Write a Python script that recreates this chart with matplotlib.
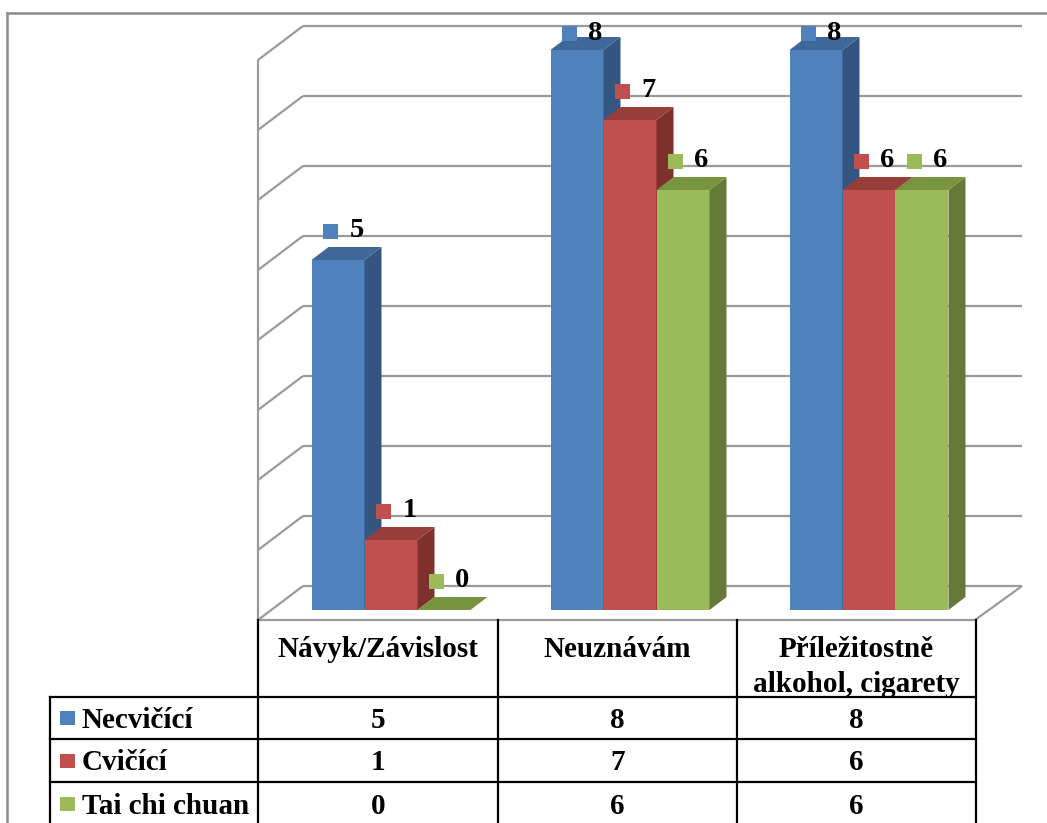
import matplotlib
matplotlib.use("Agg")
import matplotlib.pyplot as plt
from matplotlib.patches import Polygon, Rectangle

# ---- data -------------------------------------------------------------
categories = ["Návyk/Závislost", "Neuznávám", "Příležitostně\nalkohol, cigarety"]
series_names = ["Necvičící", "Cvičící", "Tai chi chuan"]
necvicici = [5, 8, 8]
cvicici = [1, 7, 6]
tai_chi = [0, 6, 6]
gridline_values = list(range(0, 9))

# ---- styling ----------------------------------------------------------
front_colors = ["#4F81BD", "#C0504D", "#9BBB59"]
top_colors = ["#3F6899", "#973E3B", "#78943F"]
side_colors = ["#34557F", "#7E302D", "#657A38"]
grid_color = "#9a9a9a"
FONT = "Liberation Serif"

W, H, DPI = 1047, 823, 100
fig = plt.figure(figsize=(W / DPI, H / DPI), dpi=DPI)
fig.patch.set_facecolor("white")

# plot scale: pixels per category step / per value unit
PX_CAT, PX_UNIT = 239, 70
X0_PX, Y0_PX = 391, 610          # centre of first category, value 0 on bar fronts


def dx(px):
    return px / PX_CAT


def dy(px):
    return px / PX_UNIT


ax = fig.add_axes([0, 0, 1, 1])
ax.set_xlim(-X0_PX / PX_CAT, (W - X0_PX) / PX_CAT)
ax.set_ylim((Y0_PX - H) / PX_UNIT, Y0_PX / PX_UNIT)
ax.axis("off")

# ---- 3-D walls and floor ---------------------------------------------
front_off, back_off = dy(-10), dy(24)
x_front_left, x_back_left = dx(258 - X0_PX), dx(303 - X0_PX)
x_front_right, x_back_right = dx(975 - X0_PX), dx(1022 - X0_PX)
gkw = dict(color=grid_color, lw=1.6, solid_capstyle="butt", zorder=1)
for v in gridline_values:
    ax.plot([x_back_left, x_back_right], [v + back_off, v + back_off], **gkw)
    ax.plot([x_front_left, x_back_left], [v + front_off, v + back_off], **gkw)
vmax = max(gridline_values)
ax.plot([x_front_left, x_front_left], [front_off, vmax + front_off], **gkw)
ax.plot([x_front_left, x_front_right], [front_off, front_off], **gkw)
ax.plot([x_front_right, x_back_right], [front_off, back_off], **gkw)

# ---- bars -------------------------------------------------------------
BAR_W = dx(53)
DEPTH_X, DEPTH_Y = dx(17), dy(13)
all_series = [necvicici, cvicici, tai_chi]
label_ceiling = vmax + 0.24

for s, values in enumerate(all_series):
    z = 3 + s
    for c, v in enumerate(values):
        xc = c + (s - 1) * BAR_W
        x0, x1 = xc - BAR_W / 2, xc + BAR_W / 2
        ax.bar(xc, v, width=BAR_W, bottom=0, color=front_colors[s],
               linewidth=0, zorder=z)
        if v > 0:
            ax.add_patch(Polygon([(x1, 0), (x1, v), (x1 + DEPTH_X, v + DEPTH_Y),
                                  (x1 + DEPTH_X, DEPTH_Y)], closed=True,
                                 facecolor=side_colors[s], lw=0, zorder=z))
        ax.add_patch(Polygon([(x0, v), (x1, v), (x1 + DEPTH_X, v + DEPTH_Y),
                              (x0 + DEPTH_X, v + DEPTH_Y)], closed=True,
                             facecolor=top_colors[s], lw=0, zorder=z))
        ly = min(v + 0.42, label_ceiling)
        ax.plot(xc - dx(8), ly, marker="s", markersize=10.8,
                color=front_colors[s], markeredgewidth=0, zorder=10)
        ax.text(xc + dx(18.5), ly, str(v), ha="center", va="center",
                fontsize=20.5, fontweight="bold", family=FONT, zorder=10)

# ---- data table (pixel layout) ----------------------------------------
tax = fig.add_axes([0, 0, 1, 1], facecolor="none")
tax.set_xlim(0, W)
tax.set_ylim(H, 0)
tax.axis("off")

col_edges = [258, 498, 737, 976]
legend_left = 50
row_edges = [697, 739, 782, 825]
header_top = 620
lkw = dict(color="black", lw=1.6, solid_capstyle="projecting", zorder=5)

for x in col_edges:
    tax.plot([x, x], [header_top, H + 5], **lkw)
tax.plot([legend_left, legend_left], [row_edges[0], H + 5], **lkw)
for y in row_edges[:-1]:
    tax.plot([legend_left, col_edges[-1]], [y, y], **lkw)

tkw = dict(fontsize=21, fontweight="bold", family=FONT, zorder=6)
for c, cat in enumerate(categories):
    cx = (col_edges[c] + col_edges[c + 1]) / 2
    for i, line in enumerate(cat.split("\n")):
        tax.text(cx, 657 + i * 35, line, ha="center", va="baseline", **tkw)

for s, (name, values) in enumerate(zip(series_names, all_series)):
    cy = (row_edges[s] + row_edges[s + 1]) / 2
    tax.add_patch(Rectangle((60, cy - 7), 15, 14, facecolor=front_colors[s],
                            lw=0, zorder=6))
    tax.text(82, cy + 10, name, ha="left", va="baseline", **tkw)
    for c, v in enumerate(values):
        cx = (col_edges[c] + col_edges[c + 1]) / 2
        tax.text(cx, cy + 10, str(v), ha="center", va="baseline", **tkw)

# outer frame of the chart area
fkw = dict(color="#8c8c8c", lw=1.8, solid_capstyle="projecting", zorder=7)
tax.plot([7, W + 5], [13, 13], **fkw)
tax.plot([7, 7], [13, H + 5], **fkw)

fig.savefig("out.png", dpi=DPI, facecolor="white")
